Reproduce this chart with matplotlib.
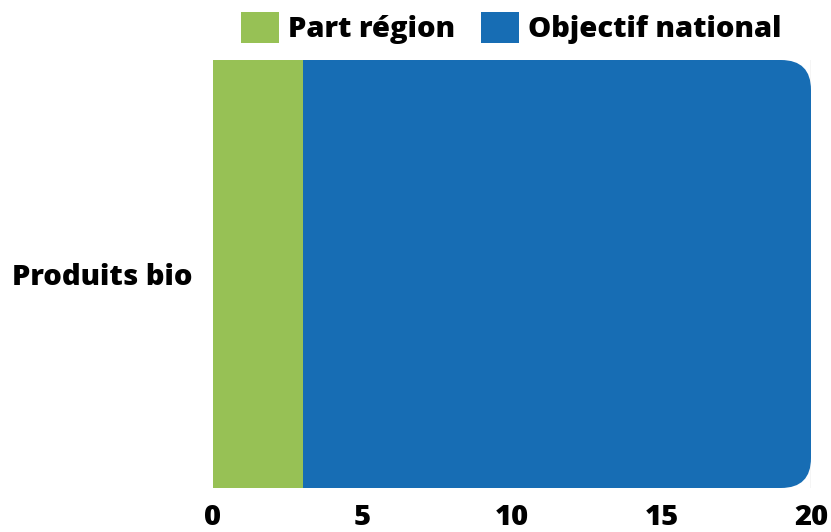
import matplotlib.pyplot as plt
from matplotlib.patches import FancyBboxPatch, Patch

# Data
categories = ["Produits bio"]
part_region = [3]
objectif_national = [20]
series_labels = ["Part région", "Objectif national"]
xticks = [0, 5, 10, 15, 20]

GREEN = "#97c155"
BLUE = "#176db4"

plt.rcParams['font.family'] = ['Open Sans', 'DejaVu Sans']
plt.rcParams['font.weight'] = 'heavy'

fig = plt.figure(figsize=(8.31, 5.32), dpi=100)
ax = fig.add_axes([213 / 831, 44 / 532, 598 / 831, 428 / 532])

# Blue bar drawn with barh, then swapped for a rounded patch of the same extent
blue = ax.barh(categories, objectif_national, height=1.0, color=BLUE, zorder=2)
for rect in blue:
    x, y, w, h = rect.get_x(), rect.get_y(), rect.get_width(), rect.get_height()
    rect.set_visible(False)
ax.set_xlim(0, 20)
ax.set_ylim(-0.5, 0.5)

# keep corners circular in pixels
px_x = 20 / 598
px_y = 1 / 428
rounded = FancyBboxPatch((x, y), w, h,
                         boxstyle="round,pad=0,rounding_size=%f" % (30 * px_x),
                         mutation_aspect=px_y / px_x,
                         facecolor=BLUE, edgecolor='none', zorder=2)
ax.add_patch(rounded)

ax.barh(categories, part_region, height=1.0, color=GREEN, zorder=3)

ax.set_xticks(xticks)
ax.grid(axis='x', color='#cccccc', linewidth=1, zorder=0)
ax.set_axisbelow(True)
for s in ax.spines.values():
    s.set_visible(False)
ax.tick_params(axis='x', length=0, pad=11, labelsize=21)
ax.tick_params(axis='y', length=0, pad=15, labelsize=21)

handles = [Patch(facecolor=GREEN), Patch(facecolor=BLUE)]
fig.legend(handles, series_labels, loc='center right',
           bbox_to_anchor=(781 / 831, 1 - 28 / 532),
           ncol=2, frameon=False, fontsize=21, handlelength=1.3, handleheight=1.3,
           handletextpad=0.3, columnspacing=0.9, borderaxespad=0.0,
           borderpad=0.0)

fig.savefig('out.png', dpi=100)
